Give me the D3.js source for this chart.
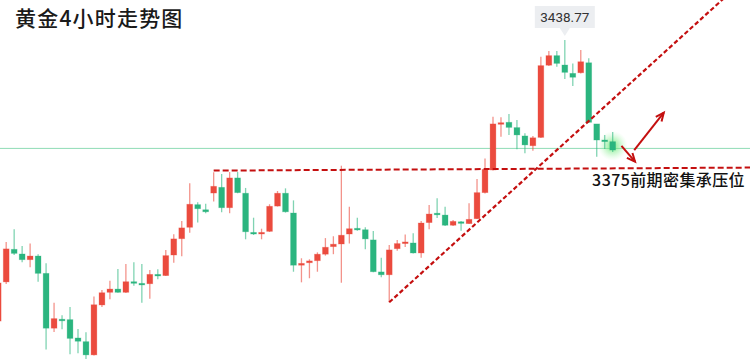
<!DOCTYPE html>
<html>
<head>
<meta charset="utf-8">
<script src="https://cdn.jsdelivr.net/npm/d3@7"></script>
<style>
  html, body { margin: 0; padding: 0; background: #fff; }
  svg { display: block; }
</style>
</head>
<body>
<svg id="chart" width="750" height="362"></svg>
<script>
// 4h candles, oldest first (first one is cut off at the left edge)
const opens = [3300.9, 3320.1, 3336.1, 3333.8, 3331.0, 3332.8, 3324.3, 3297.4, 3301.8, 3301.6, 3292.6, 3290.8, 3284.3, 3308.8, 3315.0, 3316.6, 3315.0, 3320.2, 3319.4, 3319.2, 3323.8, 3323.2, 3333.3, 3341.3, 3346.9, 3358.0, 3355.5, 3363.7, 3366.5, 3356.5, 3371.1, 3363.6, 3344.4, 3343.8, 3344.9, 3357.3, 3363.6, 3353.9, 3328.3, 3329.5, 3330.5, 3333.7, 3337.4, 3338.7, 3343.6, 3346.4, 3345.7, 3340.7, 3325.0, 3323.6, 3336.4, 3338.9, 3339.2, 3334.3, 3349.2, 3353.8, 3352.9, 3347.9, 3349.6, 3348.7, 3351.1, 3363.9, 3375.0, 3397.6, 3398.4, 3395.8, 3391.7, 3386.9, 3391.0, 3426.4, 3431.1, 3426.5, 3422.4, 3422.7, 3427.6, 3397.6, 3389.7, 3388.9];
const highs = [3323.5, 3339.7, 3345.9, 3337.7, 3339.0, 3333.7, 3329.2, 3309.9, 3303.7, 3307.8, 3297.0, 3295.4, 3312.9, 3316.1, 3320.7, 3326.4, 3328.9, 3329.7, 3328.9, 3325.9, 3326.3, 3335.8, 3343.5, 3350.0, 3368.5, 3359.2, 3358.5, 3373.9, 3373.0, 3374.0, 3374.0, 3366.2, 3351.6, 3346.2, 3358.2, 3364.7, 3366.0, 3360.1, 3331.7, 3331.2, 3334.6, 3341.6, 3342.5, 3377.1, 3357.0, 3351.6, 3346.9, 3345.1, 3332.0, 3338.2, 3340.7, 3343.3, 3344.0, 3350.0, 3357.8, 3361.1, 3357.0, 3350.5, 3350.0, 3358.7, 3370.6, 3380.7, 3401.1, 3400.9, 3402.5, 3399.5, 3393.0, 3391.7, 3430.6, 3433.4, 3433.4, 3438.77, 3427.3, 3433.9, 3429.8, 3397.6, 3392.2, 3393.6];
const lows = [3296.5, 3319.1, 3333.3, 3329.7, 3327.3, 3320.2, 3287.0, 3295.5, 3296.9, 3284.6, 3285.1, 3282.3, 3284.0, 3307.8, 3311.6, 3314.8, 3314.7, 3318.2, 3309.9, 3311.9, 3321.4, 3323.0, 3329.5, 3332.7, 3344.2, 3349.2, 3353.8, 3359.6, 3354.3, 3353.8, 3363.6, 3341.0, 3343.1, 3341.0, 3344.6, 3357.1, 3354.1, 3325.1, 3319.9, 3321.9, 3325.1, 3333.0, 3333.7, 3319.7, 3339.0, 3345.2, 3336.1, 3324.9, 3322.4, 3310.1, 3335.4, 3337.2, 3334.0, 3332.0, 3345.9, 3351.5, 3347.5, 3347.5, 3345.2, 3348.5, 3351.0, 3363.5, 3374.8, 3391.3, 3392.2, 3385.2, 3383.2, 3384.5, 3390.7, 3426.0, 3425.7, 3419.6, 3416.2, 3422.3, 3398.1, 3381.5, 3385.3, 3383.8];
const closes = [3319.6, 3336.3, 3334.1, 3331.0, 3332.8, 3324.3, 3297.4, 3302.1, 3301.3, 3292.4, 3291.0, 3284.3, 3308.9, 3314.8, 3316.6, 3315.0, 3320.2, 3319.6, 3319.1, 3323.8, 3323.2, 3333.0, 3341.2, 3346.6, 3358.2, 3356.0, 3354.5, 3367.0, 3356.5, 3371.1, 3363.9, 3344.7, 3343.6, 3344.4, 3357.2, 3363.6, 3354.5, 3328.3, 3329.2, 3330.4, 3333.7, 3337.1, 3338.6, 3343.0, 3346.2, 3345.6, 3341.2, 3325.1, 3323.6, 3335.8, 3338.9, 3339.7, 3334.3, 3349.0, 3353.4, 3353.1, 3347.9, 3349.8, 3349.2, 3350.8, 3363.9, 3375.3, 3397.6, 3398.2, 3395.9, 3392.2, 3387.3, 3390.8, 3426.2, 3431.1, 3427.3, 3422.9, 3420.5, 3428.1, 3398.4, 3389.7, 3389.4, 3384.8];

const title = '黄金4小时走势图';
const currentPrice = 3385.6;
const resistance = [{ pos: 27, price: 3374.7 }, { pos: 95, price: 3376.2 }];
const resistanceLabel = '3375前期密集承压位';
const trendline = [{ pos: 49, price: 3310.1 }, { pos: 95, price: 3473.7 }];
// two arrows after the last candle: down then up
const arrows = [
    [{ pos: 78.1, price: 3386.8 }, { pos: 79.8, price: 3379.1 }],
    [{ pos: 79.7, price: 3384.8 }, { pos: 83.4, price: 3403.1 }]
];

const RED = '#eb4b3e';
const GREEN = '#2bb57f';
const DARKRED = '#c40f0f';

const candles = opens.map((o, i) => ({ pos: i, o: o, h: highs[i], l: lows[i], c: closes[i] }));

const W = 750, H = 362;
const svg = d3.select('#chart');

const x = d3.scaleLinear().domain([0, 77]).range([-1.8, 612.7]);
const y = d3.scaleLinear().domain([3375, 3438.77]).range([170, 40]);

const defs = svg.append('defs');
defs.append('clipPath').attr('id', 'plot')
    .append('rect').attr('width', W).attr('height', H);
const glow = defs.append('radialGradient').attr('id', 'glow');
glow.append('stop').attr('offset', '0%').attr('stop-color', '#45e055').attr('stop-opacity', 0.75);
glow.append('stop').attr('offset', '55%').attr('stop-color', '#7ced86').attr('stop-opacity', 0.35);
glow.append('stop').attr('offset', '100%').attr('stop-color', '#b8f5bd').attr('stop-opacity', 0);

const g = svg.append('g').attr('clip-path', 'url(#plot)');

// last price line
g.append('line')
    .attr('x1', 0).attr('x2', W)
    .attr('y1', y(currentPrice)).attr('y2', y(currentPrice))
    .attr('stroke', '#8fdcb6').attr('stroke-width', 1);

// glow on the last candle
const lastBar = candles[candles.length - 1];
g.append('circle')
    .attr('cx', x(lastBar.pos)).attr('cy', y((lastBar.o + lastBar.c) / 2))
    .attr('r', 15)
    .attr('fill', 'url(#glow)');

const color = d => d.c >= d.o ? RED : GREEN;

const bars = g.append('g').selectAll('g')
    .data(candles)
    .join('g');

bars.append('line')
    .attr('x1', d => x(d.pos)).attr('x2', d => x(d.pos))
    .attr('y1', d => y(d.h)).attr('y2', d => y(d.l))
    .attr('stroke', color)
    .attr('stroke-opacity', 0.6)
    .attr('stroke-width', 1.3);

bars.append('rect')
    .attr('x', d => x(d.pos) - 2.9)
    .attr('width', 5.8)
    .attr('y', d => y(Math.max(d.o, d.c)))
    .attr('height', d => Math.max(1.6, Math.abs(y(d.o) - y(d.c))))
    .attr('fill', color)
    .attr('stroke', color)
    .attr('stroke-opacity', 0.35)
    .attr('stroke-width', 0.8);

// resistance + trend line
const line = d3.line().x(d => x(d.pos)).y(d => y(d.price));

g.append('path')
    .attr('d', line(resistance))
    .attr('fill', 'none')
    .attr('stroke', DARKRED)
    .attr('stroke-width', 2)
    .attr('stroke-dasharray', '6,3');

g.append('path')
    .attr('d', line(trendline))
    .attr('fill', 'none')
    .attr('stroke', DARKRED)
    .attr('stroke-width', 2.2)
    .attr('stroke-dasharray', '4.5,2.5');

// arrows
arrows.forEach(a => {
    const x1 = x(a[0].pos), y1 = y(a[0].price), x2 = x(a[1].pos), y2 = y(a[1].price);
    const ang = Math.atan2(y2 - y1, x2 - x1);
    const len = 9, spread = 0.42;
    g.append('line')
        .attr('x1', x1).attr('y1', y1).attr('x2', x2).attr('y2', y2)
        .attr('stroke', DARKRED).attr('stroke-width', 2);
    g.append('path')
        .attr('d', `M${x2 - len * Math.cos(ang - spread)},${y2 - len * Math.sin(ang - spread)}L${x2},${y2}L${x2 - len * Math.cos(ang + spread)},${y2 - len * Math.sin(ang + spread)}`)
        .attr('fill', 'none')
        .attr('stroke', DARKRED).attr('stroke-width', 2)
        .attr('stroke-linejoin', 'miter');
});

// label under the resistance line
svg.append('text')
    .attr('x', W - 5)
    .attr('y', y(resistance[1].price) + 18)
    .attr('text-anchor', 'end')
    .attr('font-family', '"Noto Sans CJK SC", sans-serif')
    .attr('font-size', 16)
    .attr('font-weight', 500)
    .attr('letter-spacing', 0.4)
    .attr('fill', '#111')
    .text(resistanceLabel);

// title
svg.append('text')
    .attr('x', 15).attr('y', 26)
    .attr('font-family', '"Noto Sans CJK SC", sans-serif')
    .attr('font-size', 21)
    .attr('font-weight', 500)
    .attr('letter-spacing', 1.2)
    .attr('fill', '#1a1a1a')
    .text(title);

// high tooltip
const peak = candles.reduce((a, b) => b.h > a.h ? b : a);
const tx = x(peak.pos), ty = y(peak.h);
const tip = svg.append('g');
tip.append('path')
    .attr('d', `M${tx - 30},${ty - 34}H${tx + 30}V${ty - 12}H${tx + 5}L${tx},${ty - 4}L${tx - 5},${ty - 12}H${tx - 30}Z`)
    .attr('fill', '#eceef1');
tip.append('text')
    .attr('x', tx).attr('y', ty - 18)
    .attr('text-anchor', 'middle')
    .attr('font-family', 'Roboto, "Liberation Sans", sans-serif')
    .attr('font-size', 13.5)
    .attr('fill', '#333')
    .text(d3.format('.2f')(peak.h));
</script>
</body>
</html>
